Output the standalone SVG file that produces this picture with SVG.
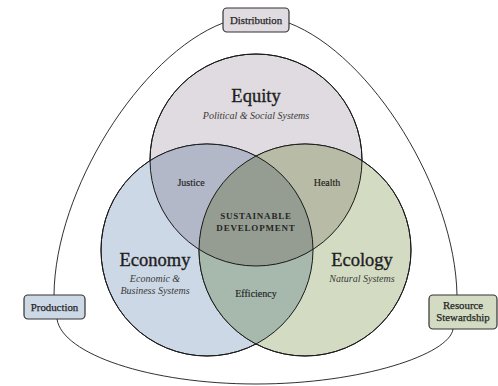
<svg xmlns="http://www.w3.org/2000/svg" width="498" height="386" viewBox="0 0 498 386">
<defs>
<style>
.circ{stroke:#1a1a1a;stroke-width:1;}
.ov{stroke:none;}
.box{stroke:#333;stroke-width:1.2;}
.conn{fill:none;stroke:#1a1a1a;stroke-width:0.9;}
text{font-family:"Liberation Serif","DejaVu Serif",serif;fill:#1e1e1e;text-anchor:middle;}
.big{font-size:18.5px;stroke:#1e1e1e;stroke-width:0.35px;}
.sub{font-size:10px;font-style:italic;fill:#3a3a3a;}
.lbl{font-size:10px;stroke:#1e1e1e;stroke-width:0.15px;}
.core{font-size:9px;font-weight:bold;letter-spacing:0.8px;fill:#262626;}
.bl{font-size:10.8px;fill:#262626;stroke:#262626;stroke-width:0.25px;}
</style>
<clipPath id="cEq"><circle cx="256" cy="160" r="106"/></clipPath>
<clipPath id="cEc"><circle cx="207" cy="250" r="106"/></clipPath>
<clipPath id="cEl"><circle cx="305" cy="250" r="106"/></clipPath>
</defs>
<rect width="498" height="386" fill="#ffffff"/>

<g id="connectors">
<path class="conn" d="M223,23 C140,55 55,190 54,295"/>
<path class="conn" d="M289,23 C372,55 455,190 457,295"/>
<path class="conn" d="M57,319 C62,354 150,384 256,384 C362,384 450,354 453,329"/>
</g>

<g id="equity">
<circle class="circ" cx="256" cy="160" r="106" fill="#e0dbe0"/>
</g>
<g id="economy">
<circle class="circ" cx="207" cy="250" r="106" fill="#cdd8e6"/>
</g>
<g id="ecology">
<circle class="circ" cx="305" cy="250" r="106" fill="#d3dcc3"/>
</g>
<g id="overlaps">
<g clip-path="url(#cEq)"><circle class="ov" cx="207" cy="250" r="106" fill="#b2b8c8"/></g>
<g clip-path="url(#cEq)"><circle class="ov" cx="305" cy="250" r="106" fill="#b8bba5"/></g>
<g clip-path="url(#cEc)"><circle class="ov" cx="305" cy="250" r="106" fill="#a7b9ad"/></g>
<g clip-path="url(#cEq)"><g clip-path="url(#cEc)"><circle class="ov" cx="305" cy="250" r="106" fill="#959d92"/></g></g>
<circle cx="256" cy="160" r="106" fill="none" stroke="#1a1a1a" stroke-width="1"/>
<circle cx="207" cy="250" r="106" fill="none" stroke="#1a1a1a" stroke-width="1"/>
<circle cx="305" cy="250" r="106" fill="none" stroke="#1a1a1a" stroke-width="1"/>
</g>

<g id="equity-labels">
<text class="big" x="256" y="102">Equity</text>
<text class="sub" x="256" y="119">Political &amp; Social Systems</text>
</g>
<g id="economy-labels">
<text class="big" x="155" y="266">Economy</text>
<text class="sub" x="155" y="282">Economic &amp;</text>
<text class="sub" x="155" y="294">Business Systems</text>
</g>
<g id="ecology-labels">
<text class="big" x="362" y="266">Ecology</text>
<text class="sub" x="362" y="282">Natural Systems</text>
</g>
<g id="justice"><text class="lbl" x="191" y="186">Justice</text></g>
<g id="health"><text class="lbl" x="327" y="186">Health</text></g>
<g id="efficiency"><text class="lbl" x="256" y="297">Efficiency</text></g>
<g id="sustainable-development">
<text class="core" x="256" y="219">SUSTAINABLE</text>
<text class="core" x="256" y="231">DEVELOPMENT</text>
</g>

<g id="distribution">
<rect class="box" x="223" y="8" width="66" height="24" rx="4" fill="#e0dbe0"/>
<text class="bl" x="256" y="23.5">Distribution</text>
</g>
<g id="production">
<rect class="box" x="24" y="295" width="61" height="24" rx="4" fill="#cdd8e6"/>
<text class="bl" x="54.5" y="310.5">Production</text>
</g>
<g id="resource-stewardship">
<rect class="box" x="429" y="295" width="68" height="34" rx="4" fill="#d3dcc3"/>
<text class="bl" x="463" y="308.5">Resource</text>
<text class="bl" x="463" y="320.5">Stewardship</text>
</g>
</svg>
